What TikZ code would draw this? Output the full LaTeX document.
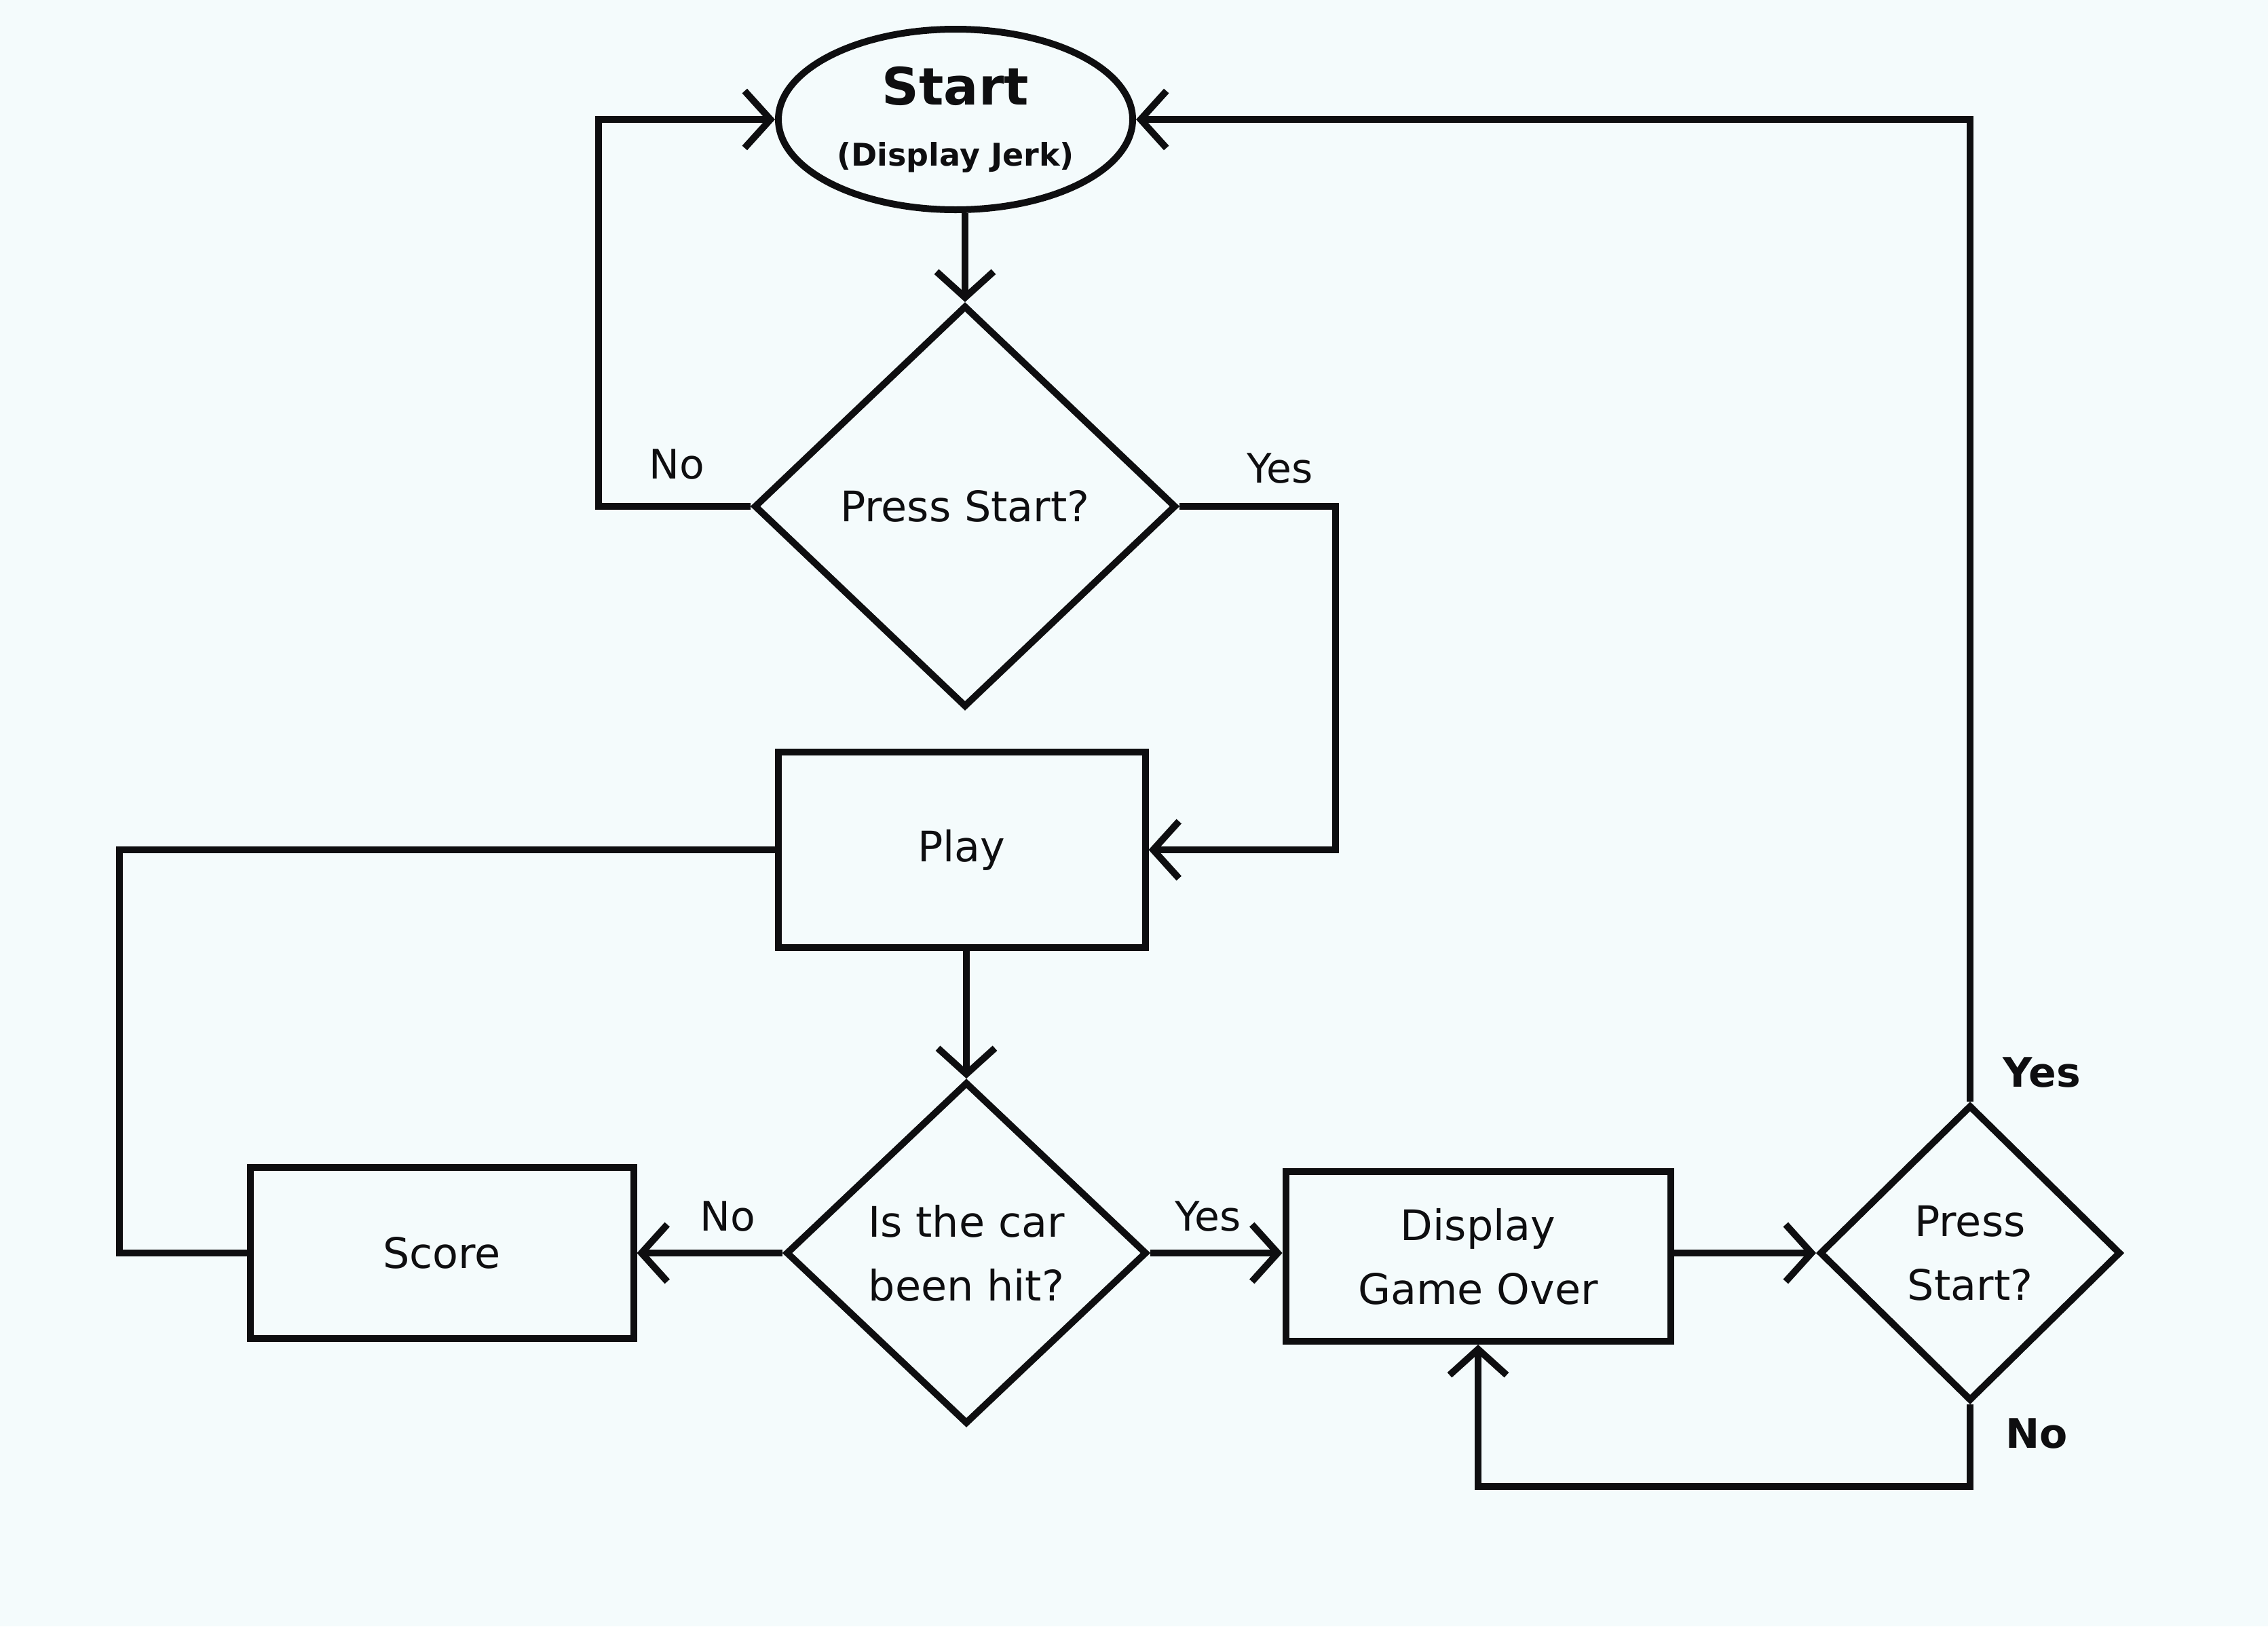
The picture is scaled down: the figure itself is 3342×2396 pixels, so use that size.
\documentclass[tikz,border=0pt]{standalone}
\usepackage{fontspec}
\setmainfont{DejaVu Sans}
\usetikzlibrary{shapes.geometric,arrows.meta}
\definecolor{bg}{HTML}{F4FBFC}
\definecolor{ink}{HTML}{0E0E10}
\begin{document}
\begin{tikzpicture}[x=1pt,y=-1pt,
  every node/.style={font=\fontsize{62}{94}\selectfont, text=ink},
  ln/.style={draw=ink, line width=10pt},
  arr/.style={ln, -{Straight Barb[length=38pt,width=84pt]}},
  boxn/.style={ln, rectangle, inner sep=0pt, align=center},
  dia/.style={ln, diamond, inner sep=0pt, align=center},
  lbl/.style={font=\fontsize{60}{70}\selectfont}]
\fill[bg] (0,0) rectangle (3342,2396);
\useasboundingbox (0,0) rectangle (3342,2396);

\node[ln, ellipse, minimum width=522pt, minimum height=266pt, inner sep=0pt, align=center] (start) at (1408,176)
  {{\fontsize{76}{80}\selectfont\bfseries Start}\\[-4pt]{\fontsize{46}{50}\selectfont\bfseries (Display Jerk)}};
\node[dia, minimum width=622pt, minimum height=592pt] (d1) at (1422,746) {Press Start?};
\node[boxn, minimum width=541pt, minimum height=288pt] (play) at (1417,1252) {Play};
\node[dia, minimum width=532pt, minimum height=504pt] (d2) at (1424,1846) {Is the car\\been hit?};
\node[boxn, minimum width=565pt, minimum height=252pt] (score) at (651,1846) {Score};
\node[boxn, minimum width=567pt, minimum height=250pt] (go) at (2178,1851) {Display\\Game Over};
\node[dia, minimum width=444pt, minimum height=436pt] (d3) at (2903,1846) {Press\\Start?};

\draw[arr] (d1.north |- start.south) -- (d1.north);
\draw[arr] (d1.west) -- ++(-224,0) |- (start.west);
\draw[arr] (d1.east) -- ++(230,0) |- (play.east);
\draw[ln] (play.west) -- ++(-966,0) |- (score.west);
\draw[arr] (d2.north |- play.south) -- (d2.north);
\draw[arr] (d2.west) -- (d2.west -| score.east);
\draw[arr] (d2.east) -- (d2.east -| go.west);
\draw[arr] (go.east |- d3.west) -- (d3.west);
\draw[arr] (d3.north) |- (start.east);
\draw[arr] (d3.south) -- ++(0,121) -| (go.south);

\node[lbl] (l1) at (997,684) {No};
\node[lbl] (l2) at (1886,690) {Yes};
\node[lbl] (l3) at (1072,1792) {No};
\node[lbl] (l4) at (1780,1792) {Yes};
\node[lbl, font=\fontsize{60}{70}\selectfont\bfseries] (l5) at (3009,1580) {Yes};
\node[lbl, font=\fontsize{60}{70}\selectfont\bfseries] (l6) at (3001,2112) {No};
\end{tikzpicture}
\end{document}
